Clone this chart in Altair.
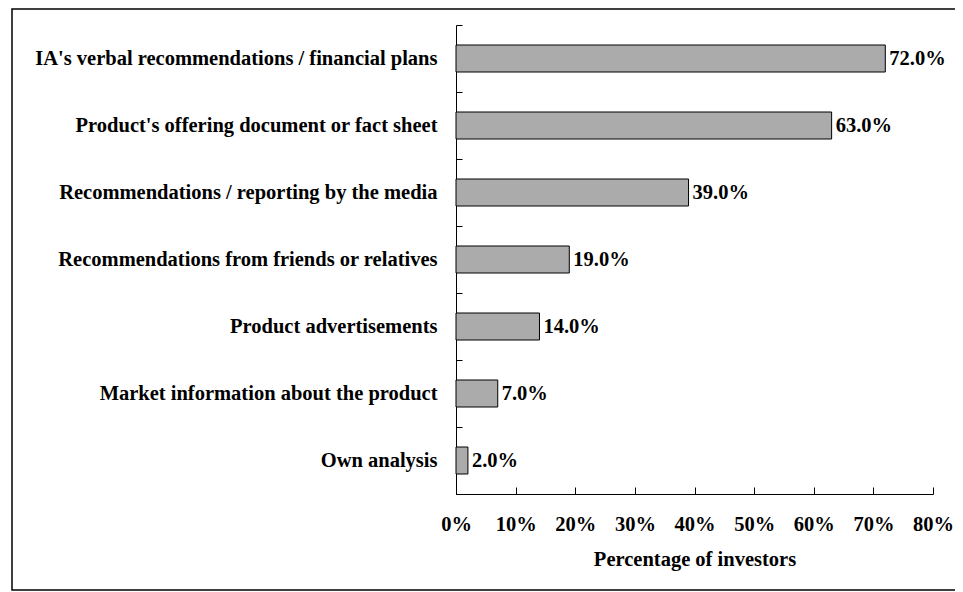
import altair as alt
import pandas as pd

categories = [
    "IA's verbal recommendations / financial plans",
    "Product's offering document or fact sheet",
    "Recommendations / reporting by the media",
    "Recommendations from friends or relatives",
    "Product advertisements",
    "Market information about the product",
    "Own analysis",
]
values = [0.72, 0.63, 0.39, 0.19, 0.14, 0.07, 0.02]
x_ticks = [0.0, 0.1, 0.2, 0.3, 0.4, 0.5, 0.6, 0.7, 0.8]
x_title = "Percentage of investors"

df = pd.DataFrame({"source": categories, "share": values})
frame_df = pd.DataFrame({"k": [0]})

FONT = "Liberation Serif"
FS = 20.5

y_enc = alt.Y(
    "source:N",
    sort=categories,
    title=None,
    scale=alt.Scale(paddingInner=0, paddingOuter=0),
    axis=alt.Axis(
        tickBand="extent",
        tickSize={"expr": "-6"},
        labelPadding=25,
        labelLimit=700,
    ),
)
x_enc = alt.X(
    "share:Q",
    scale=alt.Scale(domain=[0, 0.8], nice=False, zero=True),
    axis=alt.Axis(
        format=".0%",
        values=x_ticks,
        tickSize={"expr": "-7"},
        labelPadding=27,
        labelOverlap=False,
        labelFlush=False,
        labelBound=False,
        grid=False,
        title=x_title,
        titlePadding=15,
    ),
)

bars = alt.Chart(df).mark_bar(
    height=27, color="#ababab", stroke="black", strokeWidth=1
).encode(x=x_enc, y=y_enc)

labels = alt.Chart(df).mark_text(
    align="left", baseline="middle", dx=4,
    font=FONT, fontWeight="bold", fontSize=FS, color="black",
).encode(
    x="share:Q",
    y=alt.Y("source:N", sort=categories),
    text=alt.Text("share:Q", format=".1%"),
)

frame = alt.Chart(frame_df).mark_rect(
    fill="white", fillOpacity=0, stroke="black", strokeWidth=1.5
).encode(
    x=alt.value(-444), x2=alt.value(540),
    y=alt.value(-16), y2=alt.value(565),
)

chart = (
    alt.layer(frame, bars, labels)
    .properties(
        width=477,
        height=469,
        autosize=alt.AutoSizeParams(type="none"),
        padding={"left": 448, "top": 17, "right": 22, "bottom": 98},
        background="white",
    )
    .configure_view(strokeWidth=0)
    .configure_axis(
        domainColor="black",
        domainWidth=1,
        tickColor="black",
        tickWidth=1,
        labelFont=FONT,
        labelFontWeight="bold",
        labelFontSize=FS,
        labelColor="black",
        titleFont=FONT,
        titleFontWeight="bold",
        titleFontSize=FS,
        titleColor="black",
    )
)

chart.save("out.html", embed_options={"renderer": "svg", "actions": False})
